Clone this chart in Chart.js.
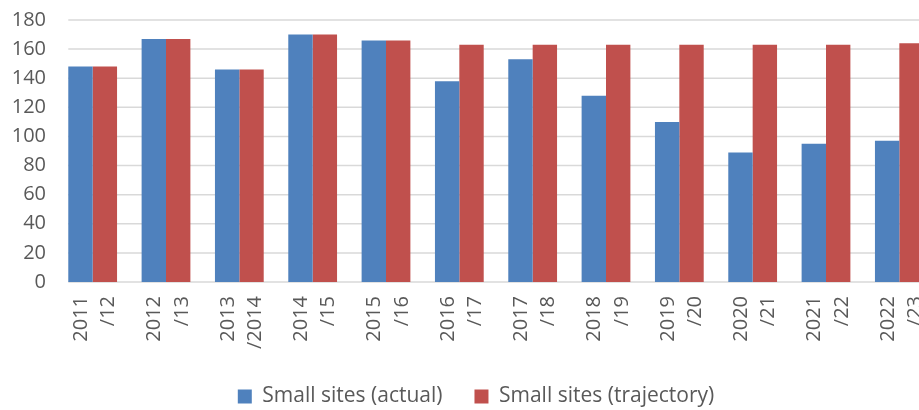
<!DOCTYPE html>
<html>
<head>
<meta charset="utf-8">
<script src="https://cdn.jsdelivr.net/npm/chart.js@4/dist/chart.umd.min.js"></script>
<style>
  html, body { margin: 0; padding: 0; background: #fff; overflow: hidden; }
  #frame { position: relative; width: 919px; height: 410px; overflow: hidden; }
  #frame canvas { position: absolute; left: 0; top: 0; display: block; }
</style>
</head>
<body>
<div id="frame"><canvas id="small_sites_chart" width="936" height="417"></canvas></div>
<script>
"use strict";

const yearLabels = [
  ["2011", "/12"], ["2012", "/13"], ["2013", "/2014"], ["2014", "/15"],
  ["2015", "/16"], ["2016", "/17"], ["2017", "/18"], ["2018", "/19"],
  ["2019", "/20"], ["2020", "/21"], ["2021", "/22"], ["2022", "/23"]
];
const actualSites = [148, 167, 146, 170, 166, 138, 153, 128, 110, 89, 95, 97];
const trajectorySites = [148, 167, 146, 170, 166, 163, 163, 163, 163, 163, 163, 164];

const textColor = "#595959";
const fontFamily = "'Open Sans', sans-serif";

// horizontal gridlines start at the first bar, not the axis
const gridFromFirstBar = {
  id: "gridFromFirstBar",
  beforeDatasetsDraw(chart) {
    const { ctx, chartArea, scales } = chart;
    const first = chart.getDatasetMeta(0).data[0];
    const left = first.x - first.width / 2;
    ctx.save();
    ctx.strokeStyle = "#d9d9d9";
    ctx.lineWidth = 1.5;
    scales.y.ticks.forEach((tick) => {
      const y = scales.y.getPixelForValue(tick.value);
      ctx.beginPath();
      ctx.moveTo(left, y);
      ctx.lineTo(chartArea.right, y);
      ctx.stroke();
    });
    ctx.restore();
  }
};

// legend sits a little right of the canvas centre
const nudgeLegend = {
  id: "nudgeLegend",
  afterLayout(chart) {
    chart.legend.left += 8;
    chart.legend.right += 8;
  }
};

const smallSitesChartContext = document
  .getElementById("small_sites_chart")
  .getContext("2d");

const smallSitesChart = new Chart(smallSitesChartContext, {
  type: "bar",
  data: {
    labels: yearLabels,
    datasets: [
      {
        label: "Small sites (actual)",
        data: actualSites,
        backgroundColor: "#4f81bd",
        borderWidth: 0
      },
      {
        label: "Small sites (trajectory)",
        data: trajectorySites,
        backgroundColor: "#c0504d",
        borderWidth: 0
      }
    ]
  },
  options: {
    responsive: false,
    animation: false,
    layout: { padding: { top: 20, right: 0, left: 0, bottom: 0 } },
    datasets: {
      bar: { categoryPercentage: 0.665, barPercentage: 1 }
    },
    scales: {
      x: {
        grid: { display: false, drawTicks: false },
        border: { display: false },
        ticks: {
          color: textColor,
          font: { family: fontFamily, size: 20, lineHeight: 1.375 },
          minRotation: 90,
          maxRotation: 90,
          autoSkip: false,
          labelOffset: -11.5,
          padding: 14
        },
        afterFit(scale) {
          scale.height = 72;
          scale.paddingLeft = 0;
          scale.paddingRight = 0;
        }
      },
      y: {
        min: 0,
        max: 180,
        grid: { display: false, drawTicks: false },
        border: { display: false },
        ticks: {
          stepSize: 20,
          color: textColor,
          font: { family: fontFamily, size: 20 },
          padding: 10
        },
        afterFit(scale) {
          scale.width = 56;
          scale.paddingTop = 0;
          scale.paddingBottom = 0;
        }
      }
    },
    plugins: {
      legend: {
        position: "bottom",
        labels: {
          color: textColor,
          font: { family: fontFamily, size: 21 },
          boxWidth: 14,
          boxHeight: 14,
          padding: 32
        }
      },
      tooltip: { enabled: false }
    }
  },
  plugins: [gridFromFirstBar, nudgeLegend]
});
</script>
</body>
</html>
